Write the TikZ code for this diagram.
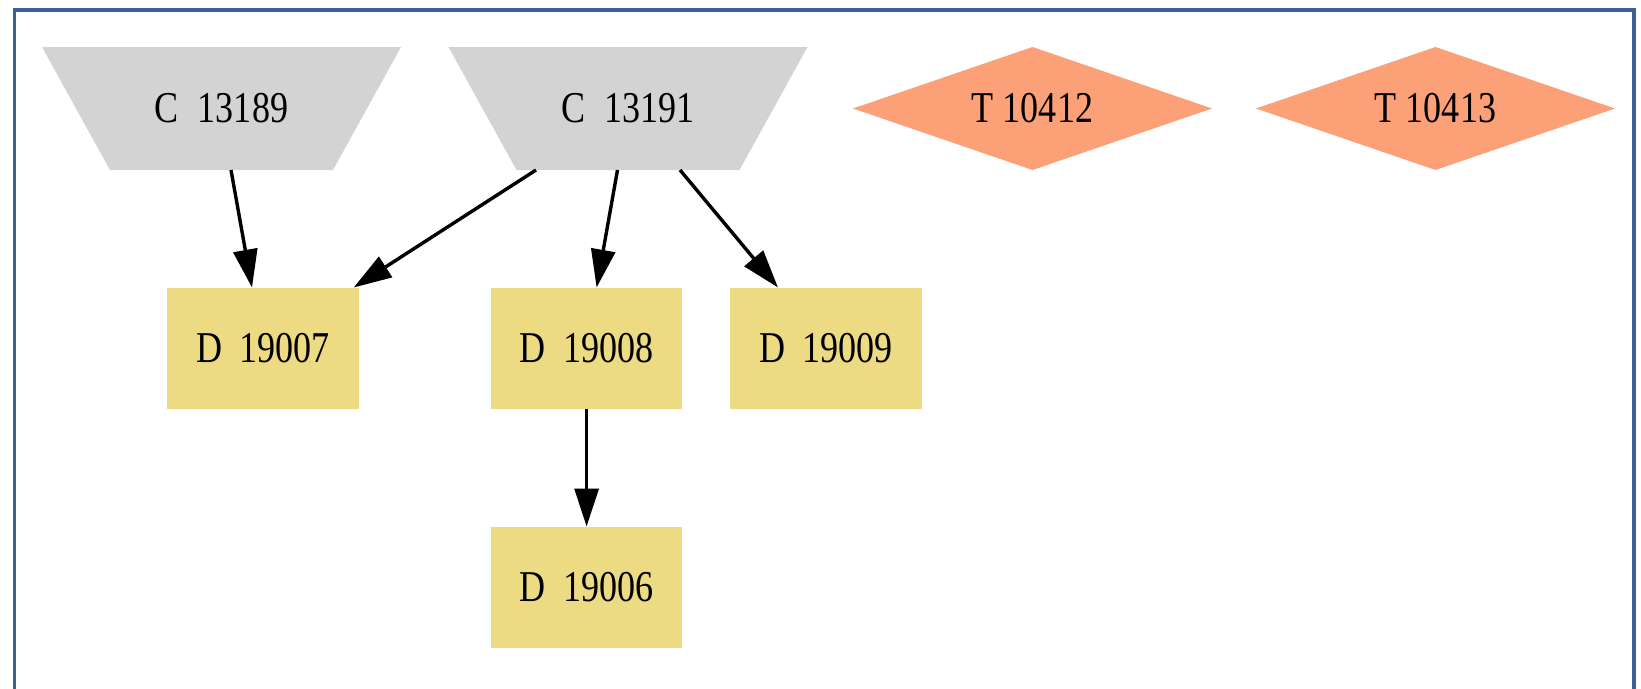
\documentclass[tikz,border=0pt]{standalone}
\usepackage{fontspec}
\setmainfont{Liberation Serif}[FakeStretch=0.82]
\usetikzlibrary{arrows.meta}
\definecolor{cgray}{HTML}{D3D3D3}
\definecolor{tsalmon}{HTML}{FCA078}
\definecolor{dgold}{HTML}{ECDB82}
\definecolor{framecol}{RGB}{62,96,150}
\tikzset{
  base/.style={inner sep=0pt, outer sep=0pt, font=\fontsize{44}{52}\selectfont},
  cnode/.style={base, minimum width=359, minimum height=123,
    path picture={\fill[cgray] (path picture bounding box.north west) -- (path picture bounding box.north east) -- ([xshift=-68]path picture bounding box.south east) -- ([xshift=68]path picture bounding box.south west) -- cycle;}},
  tnode/.style={base, minimum width=359, minimum height=123,
    path picture={\fill[tsalmon] (path picture bounding box.west) -- (path picture bounding box.north) -- (path picture bounding box.east) -- (path picture bounding box.south) -- cycle;}},
  dnode/.style={base, fill=dgold, minimum width=191.5, minimum height=121},
  edge/.style={line width=3.4pt, -{Triangle[length=38pt,width=24pt]}}
}
\begin{document}
\begin{tikzpicture}[x=1pt,y=-1pt]
\useasboundingbox (0,0) rectangle (1641,688);
\clip (0,0) rectangle (1641,688);
\fill[white] (0,0) rectangle (1641,688);
\draw[framecol, line width=3.2pt] (14.5,10) rectangle (1634,720);
\node[cnode] (c1) at (221.5,108.5) {C\hspace{19pt}13189};
\node[cnode] (c2) at (628,108.5) {C\hspace{19pt}13191};
\node[tnode] (t1) at (1032.5,108.5) {T 10412};
\node[tnode] (t2) at (1435.5,108.5) {T 10413};
\node[dnode] (d7) at (263,348) {D\hspace{17pt}19007};
\node[dnode] (d8) at (586.6,348) {D\hspace{17pt}19008};
\node[dnode] (d9) at (826,348) {D\hspace{17pt}19009};
\node[dnode] (d6) at (586.6,587) {D\hspace{17pt}19006};
\draw[edge] ([xshift=9.5]c1.south) -- ([xshift=-11]d7.north);
\draw[edge] ([xshift=-92]c2.south) -- ([xshift=90.7]d7.north);
\draw[edge] ([xshift=-10.5]c2.south) -- ([xshift=10]d8.north);
\draw[edge] ([xshift=52]c2.south) -- ([xshift=-48]d9.north);
\draw[edge] (d8.south) -- (d6.north);
\end{tikzpicture}
\end{document}
